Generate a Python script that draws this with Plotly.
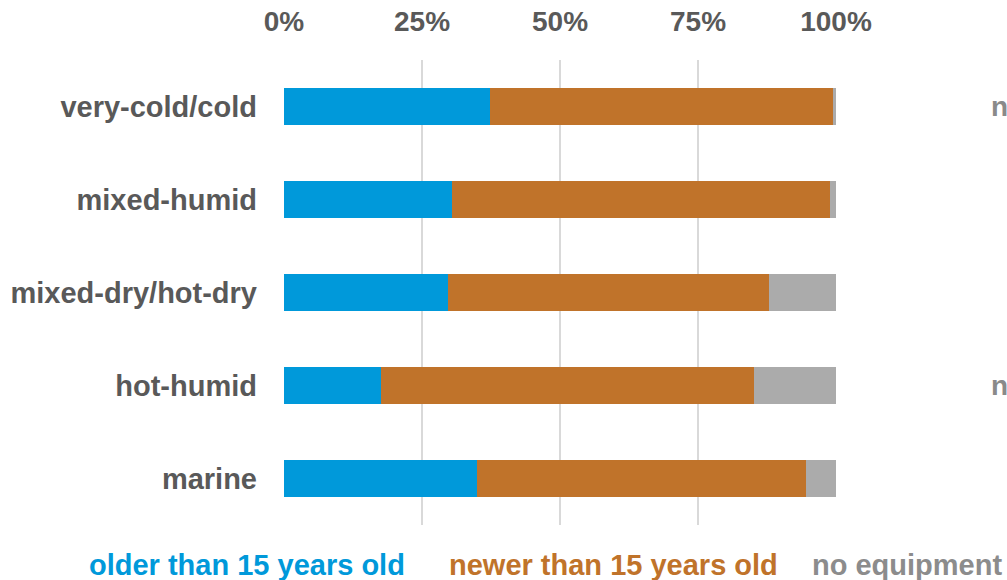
import plotly.graph_objects as go

# Share of homes by climate region and age of equipment (%)
regions = ["very-cold/cold", "mixed-humid", "mixed-dry/hot-dry", "hot-humid", "marine"]
older_than_15 = [37.3, 30.4, 29.7, 17.6, 35.0]
newer_than_15 = [62.2, 68.5, 58.2, 67.5, 59.6]
no_equipment = [0.5, 1.1, 12.1, 14.9, 5.4]

tick_values = [0, 25, 50, 75, 100]
tick_labels = ["0%", "25%", "50%", "75%", "100%"]

series = [
    ("older than 15 years old", older_than_15, "#0099DA"),
    ("newer than 15 years old", newer_than_15, "#C0732A"),
    ("no equipment", no_equipment, "#ABABAB"),
]

FONT = "Liberation Sans, Arial, sans-serif"
TEXT_GREY = "#595959"

fig = go.Figure()
for name, vals, color in series:
    fig.add_trace(go.Bar(
        y=regions, x=vals, name=name, orientation="h",
        marker=dict(color=color, line=dict(width=0)),
        width=0.4, showlegend=False,
    ))

# Colour-coded legend text along the bottom
legend_pos = [(247, series[0]), (613, series[1]), (907, series[2])]
left, plot_w = 284, 552
legend_colors = {"no equipment": "#8C8C8C"}
for px, (name, _, color) in legend_pos:
    fig.add_annotation(
        x=(px - left) / plot_w, y=-0.087, xref="paper", yref="paper",
        text=f"<b>{name}</b>", showarrow=False, xanchor="center", yanchor="middle",
        font=dict(family=FONT, size=29, color=legend_colors.get(name, color)),
    )

# Side labels at the right edge
for cat in ["very-cold/cold", "hot-humid"]:
    fig.add_annotation(
        x=(989 - left) / plot_w, y=cat, xref="paper", yref="y",
        text="<b>n</b>", showarrow=False, xanchor="left", yanchor="middle",
        font=dict(family=FONT, size=28, color="#8A8A8A"),
    )

fig.update_layout(
    barmode="stack",
    width=1007, height=580,
    margin=dict(l=284, r=171, t=60, b=55),
    paper_bgcolor="white", plot_bgcolor="white",
    font=dict(family=FONT, color=TEXT_GREY),
    bargap=0.6,
)
fig.update_xaxes(
    side="top", range=[0, 100], tickvals=tick_values, ticktext=tick_labels,
    showgrid=True, gridcolor="#D9D9D9", gridwidth=1.5, zeroline=False,
    showline=False, ticks="", ticklabelstandoff=22, automargin=False,
    tickfont=dict(family=FONT, size=28, color=TEXT_GREY, weight="bold"),
)
fig.update_yaxes(
    categoryorder="array", categoryarray=regions, autorange="reversed",
    showgrid=False, zeroline=False, showline=False, ticks="",
    ticklabelstandoff=26, automargin=False,
    tickfont=dict(family=FONT, size=29, color=TEXT_GREY, weight="bold"),
)

fig.write_html("out.html")
